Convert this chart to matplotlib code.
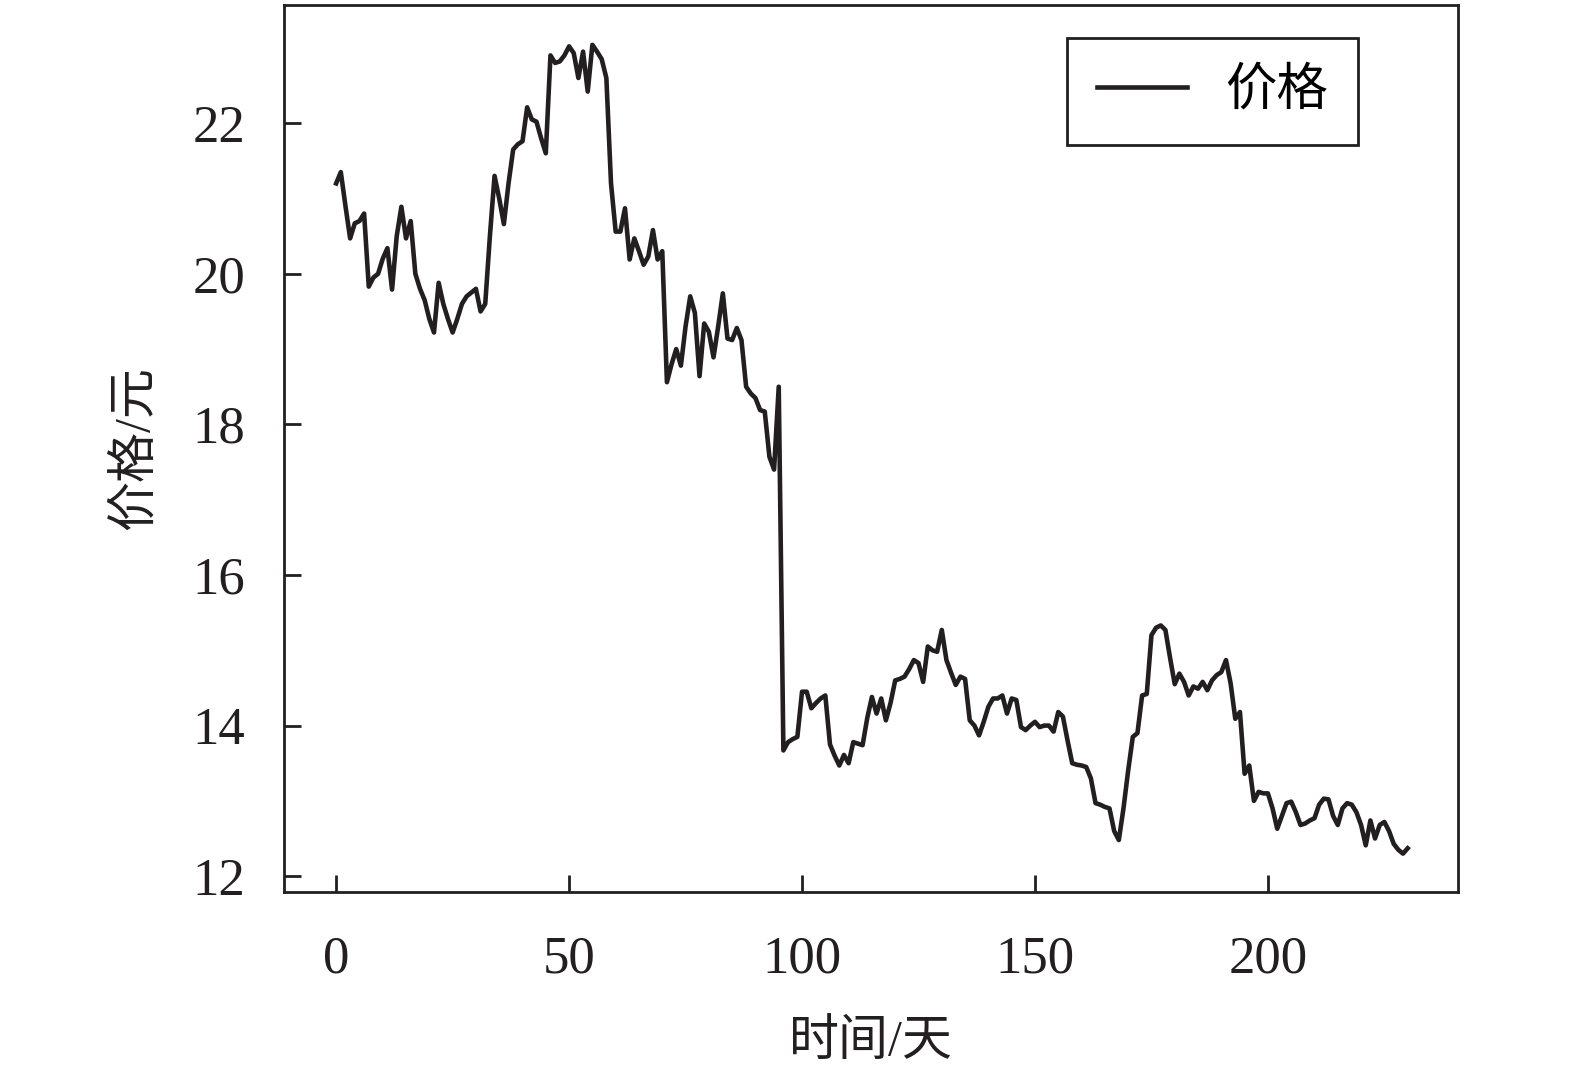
import numpy as np
import matplotlib
matplotlib.use('Agg')
import matplotlib.pyplot as plt

plt.rcParams['font.family'] = ['Liberation Serif', 'Noto Sans CJK SC']

# daily closing price (day 0 .. 230)
price = [
    21.2, 21.35, 20.9, 20.47, 20.67, 20.7, 20.8, 19.83, 19.95, 20.0,
    20.2, 20.34, 19.79, 20.5, 20.89, 20.47, 20.7, 20.0, 19.8, 19.65,
    19.4, 19.22, 19.88, 19.6, 19.4, 19.22, 19.4, 19.6, 19.7, 19.75,
    19.8, 19.5, 19.6, 20.5, 21.3, 21.0, 20.66, 21.2, 21.65, 21.72,
    21.76, 22.21, 22.05, 22.02, 21.8, 21.6, 22.9, 22.8, 22.82, 22.9,
    23.02, 22.93, 22.6, 22.95, 22.42, 23.04, 22.95, 22.85, 22.6, 21.2,
    20.56, 20.56, 20.87, 20.19, 20.47, 20.3, 20.12, 20.23, 20.58, 20.19,
    20.3, 18.56, 18.8, 19.0, 18.78, 19.3, 19.7, 19.48, 18.64, 19.34,
    19.23, 18.89, 19.3, 19.74, 19.14, 19.12, 19.28, 19.12, 18.5, 18.41,
    18.35, 18.19, 18.17, 17.57, 17.4, 18.5, 13.67, 13.78, 13.82, 13.85,
    14.45, 14.45, 14.23, 14.3, 14.36, 14.4, 13.75, 13.6, 13.47, 13.61,
    13.5, 13.78, 13.76, 13.74, 14.1, 14.38, 14.16, 14.36, 14.07, 14.3,
    14.6, 14.62, 14.65, 14.75, 14.87, 14.83, 14.58, 15.05, 15.0, 14.98,
    15.27, 14.87, 14.7, 14.54, 14.65, 14.62, 14.07, 14.0, 13.87, 14.05,
    14.25, 14.36, 14.36, 14.4, 14.16, 14.36, 14.34, 13.98, 13.94, 14.0,
    14.05, 13.98, 14.0, 14.0, 13.92, 14.18, 14.12, 13.8, 13.5, 13.48,
    13.47, 13.45, 13.3, 12.97, 12.95, 12.92, 12.9, 12.6, 12.48, 12.9,
    13.4, 13.85, 13.9, 14.4, 14.42, 15.2, 15.3, 15.33, 15.27, 14.9,
    14.55, 14.69, 14.58, 14.4, 14.52, 14.49, 14.58, 14.47, 14.6, 14.67,
    14.71, 14.87, 14.56, 14.09, 14.18, 13.36, 13.47, 13.0, 13.12, 13.1,
    13.1, 12.9, 12.63, 12.8, 12.97, 12.99, 12.85, 12.68, 12.7, 12.74,
    12.77, 12.95, 13.03, 13.02, 12.8, 12.68, 12.9, 12.97, 12.95, 12.85,
    12.68, 12.41, 12.74, 12.5, 12.68, 12.72, 12.6, 12.43, 12.35, 12.3,
    12.37,
]
days = np.arange(len(price))

xticks = [0, 50, 100, 150, 200]
yticks = [12, 14, 16, 18, 20, 22]

fig = plt.figure(figsize=(15.75, 10.76), dpi=100)
ax = fig.add_axes([0.1803, 0.171, 0.7454, 0.8244])

ax.plot(days, price, color='#231f20', lw=3.3, label='价格')

ax.set_xlim(-11.2, 240.8)
ax.set_ylim(11.79, 23.57)
ax.set_xticks(xticks)
ax.set_yticks(yticks)

for s in ax.spines.values():
    s.set_linewidth(2.0)
    s.set_color('#231f20')

ax.tick_params(axis='both', direction='in', length=12, width=2.0,
               color='#231f20', labelsize=38, labelcolor='#231f20')
ax.tick_params(axis='x', pad=31)
ax.tick_params(axis='y', pad=28)

ax.set_xlabel('时间/天', fontsize=36, color='#231f20', labelpad=26)
ax.set_ylabel('价格/元', fontsize=36, color='#231f20', labelpad=24)

leg = ax.legend(loc='upper right', bbox_to_anchor=(0.9148, 0.9628),
                fontsize=37, fancybox=False, framealpha=1,
                handlelength=1.75, borderpad=0.58, handletextpad=0.75,
                borderaxespad=0)
leg.get_frame().set_edgecolor('#231f20')
leg.get_frame().set_linewidth(2.0)

fig.savefig('out.png', dpi=100)
